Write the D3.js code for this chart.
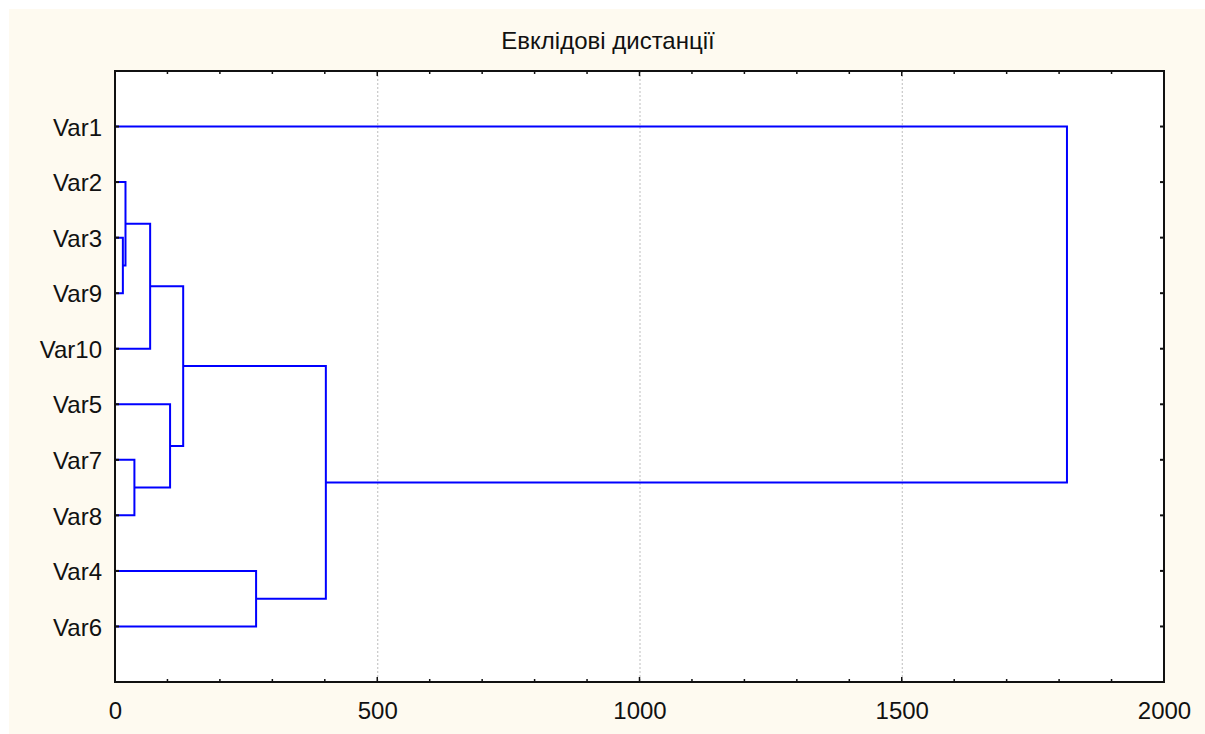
<!DOCTYPE html>
<html><head><meta charset="utf-8">
<script src="https://cdn.jsdelivr.net/npm/d3@7"></script>
<style>body{margin:0;background:#fff}svg{display:block}text{font-family:"Liberation Sans",Arial,Helvetica,sans-serif;fill:#111}</style>
</head><body>
<svg id="c" width="1205" height="734"></svg>
<script>
const title = "Евклідові дистанції";
const leaves = ["Var1","Var2","Var3","Var9","Var10","Var5","Var7","Var8","Var4","Var6"];
// merges: [left, right, linkage distance]; ids refer to leaves or earlier merges ("m0".."m8")
const mergeLeft  = ["Var3","Var2","m1","Var7","Var5","m2","Var4","m5","Var1"];
const mergeRight = ["Var9","m0","Var10","Var8","m3","m4","Var6","m6","m7"];
const mergeDist  = [15, 20, 67, 37, 105, 130, 269, 402, 1815];
const xTicks = [0, 500, 1000, 1500, 2000];
const xMinor = d3.range(0, 2001, 100);

const svg = d3.select("#c");
const L = 115, R = 1164, T = 71, B = 682;
svg.append("rect").attr("x",9).attr("y",9).attr("width",1196).attr("height",725).attr("fill","#fefaf0");
svg.append("rect").attr("x",L).attr("y",T).attr("width",R-L).attr("height",B-T).attr("fill","#fff");

const x = d3.scaleLinear().domain([0,2000]).range([L,R]);
const y = d3.scalePoint().domain(leaves).range([T,B]).padding(1);

// grid
svg.append("g").selectAll("line").data(xTicks.slice(1,-1)).join("line")
  .attr("x1",d=>x(d)+0.5).attr("x2",d=>x(d)+0.5).attr("y1",T).attr("y2",B)
  .attr("stroke","#bdbdbd").attr("stroke-width",1).attr("stroke-dasharray","2,2");

// dendrogram
const pos = {};
leaves.forEach(v => pos[v] = {x: x(0), y: y(v)});
const g = svg.append("g").attr("fill","none").attr("stroke","#0000ff").attr("stroke-width",2);
mergeDist.forEach((d,i) => {
  const a = pos[mergeLeft[i]], b = pos[mergeRight[i]];
  const xm = x(d);
  const p = d3.path();
  p.moveTo(a.x, a.y); p.lineTo(xm, a.y); p.lineTo(xm, b.y); p.lineTo(b.x, b.y);
  g.append("path").attr("d", p.toString());
  pos["m"+i] = {x: xm, y: (a.y+b.y)/2};
});

// axes
const ax = svg.append("g").attr("stroke","#111");
const bottom = d3.axisBottom(x).tickValues(xTicks).tickFormat(d3.format("d")).tickSize(0).tickPadding(0);
const gb = svg.append("g").attr("transform",`translate(0,${B})`).call(bottom);
gb.select(".domain").remove();
gb.selectAll("text").attr("dy",null).attr("y",37).attr("font-size",24).style("fill","#111").attr("font-family","Liberation Sans, Arial, sans-serif");
const left = d3.axisLeft(y).tickSize(0).tickPadding(0);
const gl = svg.append("g").attr("transform",`translate(${L},0)`).call(left);
gl.select(".domain").remove();
gl.selectAll("text").attr("x",-13).attr("dy","0.36em").attr("font-size",24).style("fill","#111").attr("font-family","Liberation Sans, Arial, sans-serif");

// tick marks
xMinor.forEach(v => {
  const len = v % 500 === 0 ? 5 : 3;
  ax.append("line").attr("x1",x(v)).attr("x2",x(v)).attr("y1",B).attr("y2",B-len).attr("stroke-width",1.5);
  ax.append("line").attr("x1",x(v)).attr("x2",x(v)).attr("y1",T).attr("y2",T+len).attr("stroke-width",1.5);
});
leaves.forEach(v => {
  ax.append("line").attr("x1",L).attr("x2",L+4).attr("y1",y(v)).attr("y2",y(v)).attr("stroke-width",2);
  ax.append("line").attr("x1",R).attr("x2",R-4).attr("y1",y(v)).attr("y2",y(v)).attr("stroke-width",2);
});
svg.append("rect").attr("x",L).attr("y",T).attr("width",R-L).attr("height",B-T)
  .attr("fill","none").attr("stroke","#111").attr("stroke-width",2);

svg.append("text").attr("x",608).attr("y",49).attr("text-anchor","middle").attr("font-size",24).text(title);
</script>
</body></html>
